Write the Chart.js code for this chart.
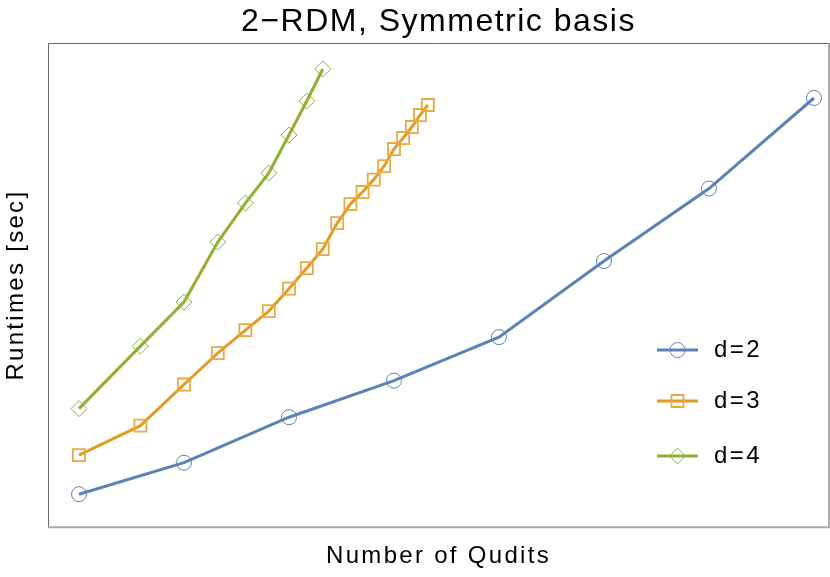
<!DOCTYPE html>
<html>
<head>
<meta charset="utf-8">
<script src="https://cdn.jsdelivr.net/npm/chart.js@4/dist/chart.umd.min.js"></script>
<style>
  html, body { margin: 0; padding: 0; background: #fff; }
  canvas { display: block; }
</style>
</head>
<body>
<canvas id="chart-1" width="830" height="577"></canvas>
<script>
// number of qudits and runtimes [sec] per local dimension d
const quditsD2 = [2, 4, 8, 16, 32, 64, 128, 256];
const runtimeD2 = [0.0296, 0.0834, 0.372, 1.24, 5.18, 63.1, 685, 13450];

const quditsD3 = [2, 3, 4, 5, 6, 7, 8, 9, 10, 11, 12, 13, 14, 15, 16, 17, 18, 19, 20];
const runtimeD3 = [0.107, 0.282, 1.09, 3.06, 6.52, 12.2, 25.5, 50.1, 93.6, 220, 411, 611, 921, 1436, 2512, 3606, 5179, 7686, 10680];

const quditsD4 = [2, 3, 4, 5, 6, 7, 8, 9, 10];
const runtimeD4 = [0.493, 3.85, 16.4, 118, 425, 1140, 3981, 12190, 34910];

const seriesLabels = ["d=2", "d=3", "d=4"];
const chartTitle = "2\u2212RDM, Symmetric basis";

const FONT = "'Liberation Sans', Arial, Helvetica, sans-serif";

function toPoints(xs, ys) {
  return xs.map((x, i) => ({ x: x, y: ys[i] }));
}

// the reference text is set a bit looser than the canvas default
const spacing = {
  id: "spacing",
  beforeDraw(chart) {
    chart.ctx.letterSpacing = "2.3px";
  }
};

// title centred over the plot frame
const titlePlugin = {
  id: "frameTitle",
  afterDraw(chart) {
    const { ctx, chartArea } = chart;
    ctx.save();
    ctx.letterSpacing = "1.5px";
    ctx.font = "32px " + FONT;
    ctx.fillStyle = "#000";
    ctx.textAlign = "center";
    ctx.textBaseline = "middle";
    ctx.fillText(chartTitle, (chartArea.left + chartArea.right) / 2, 22);
    ctx.restore();
  }
};

// box around the plot
const framePlugin = {
  id: "frame",
  afterDatasetsDraw(chart) {
    const { ctx, chartArea: a } = chart;
    ctx.save();
    ctx.lineWidth = 1;
    ctx.strokeStyle = "#666";
    ctx.beginPath();
    ctx.moveTo(a.left + 0.5, a.bottom);
    ctx.lineTo(a.left + 0.5, a.top + 0.5);
    ctx.lineTo(a.right, a.top + 0.5);
    ctx.stroke();
    ctx.lineWidth = 2;
    ctx.strokeStyle = "#aaa";
    ctx.beginPath();
    ctx.moveTo(a.right, a.top);
    ctx.lineTo(a.right, a.bottom);
    ctx.lineTo(a.left, a.bottom);
    ctx.stroke();
    ctx.restore();
  }
};

// legend drawn inside the plot, lower right
const insideLegend = {
  id: "insideLegend",
  afterDraw(chart) {
    const { ctx } = chart;
    const rows = [350, 401, 456];
    const x0 = 657, x1 = 698, tx = 714;
    ctx.save();
    chart.data.datasets.forEach((ds, i) => {
      const y = rows[i];
      ctx.strokeStyle = ds.borderColor;
      ctx.lineWidth = 3;
      ctx.beginPath();
      ctx.moveTo(x0, y);
      ctx.lineTo(x1, y);
      ctx.stroke();
      ctx.strokeStyle = ds.pointBorderColor;
      ctx.lineWidth = ds.pointBorderWidth;
      ctx.fillStyle = "rgba(0,0,0,0)";
      Chart.helpers.drawPoint(ctx, {
        pointStyle: ds.pointStyle,
        radius: ds.pointRadius,
        borderWidth: ds.pointBorderWidth,
        rotation: 0
      }, (x0 + x1) / 2, y);
      ctx.fillStyle = "#000";
      ctx.letterSpacing = "2.4px";
      ctx.font = "24px " + FONT;
      ctx.textAlign = "left";
      ctx.textBaseline = "middle";
      ctx.fillText(ds.label, tx, y);
    });
    ctx.restore();
  }
};

const ctx1 = document.getElementById("chart-1").getContext("2d");
const myChart1 = new Chart(ctx1, {
  type: "line",
  data: {
    datasets: [
      {
        label: seriesLabels[0],
        data: toPoints(quditsD2, runtimeD2),
        borderColor: "#5E81B5",
        borderWidth: 3,
        pointStyle: "circle",
        pointRadius: 7.5,
        pointBorderWidth: 1,
        pointBorderColor: "#5E81B5",
        pointBackgroundColor: "rgba(0,0,0,0)",
        tension: 0
      },
      {
        label: seriesLabels[1],
        data: toPoints(quditsD3, runtimeD3),
        borderColor: "#E19C24",
        borderWidth: 3,
        pointStyle: "rect",
        pointRadius: 8.5,
        pointBorderWidth: 1.8,
        pointBorderColor: "#E8A93E",
        pointBackgroundColor: "rgba(0,0,0,0)",
        tension: 0
      },
      {
        label: seriesLabels[2],
        data: toPoints(quditsD4, runtimeD4),
        borderColor: "#8FB032",
        borderWidth: 3,
        pointStyle: "rectRot",
        pointRadius: 8,
        pointBorderWidth: 1,
        pointBorderColor: "#8FB032",
        pointBackgroundColor: "rgba(0,0,0,0)",
        tension: 0
      }
    ]
  },
  options: {
    responsive: false,
    animation: false,
    events: [],
    layout: { autoPadding: false, padding: { top: 43, right: 1, left: 0, bottom: 0 } },
    plugins: {
      legend: { display: false },
      title: { display: false },
      tooltip: { enabled: false }
    },
    scales: {
      x: {
        type: "logarithmic",
        min: 1.63,
        max: 282.7,
        bounds: "data",
        grid: { display: false, drawTicks: false },
        border: { display: false },
        ticks: { display: false },
        title: {
          display: true,
          text: "Number of Qudits",
          color: "#000",
          font: { family: FONT, size: 24 },
          padding: { top: 15, bottom: 6 }
        }
      },
      y: {
        type: "logarithmic",
        min: 0.01,
        max: 82040,
        bounds: "data",
        grid: { display: false, drawTicks: false },
        border: { display: false },
        ticks: { display: false },
        title: {
          display: true,
          text: "Runtimes [sec]",
          color: "#000",
          font: { family: FONT, size: 24 },
          padding: { top: 2, bottom: 17.2 }
        }
      }
    }
  },
  plugins: [spacing, titlePlugin, framePlugin, insideLegend]
});
</script>
</body>
</html>
